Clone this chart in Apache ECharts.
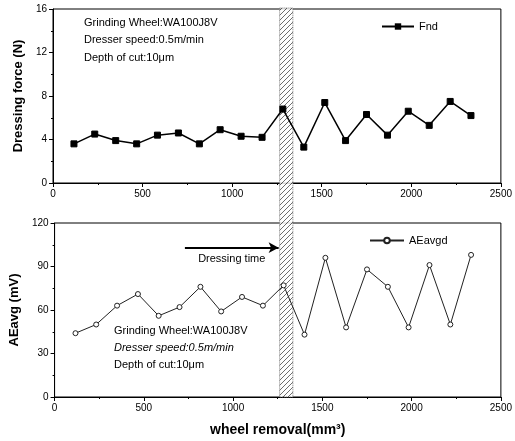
<!DOCTYPE html>
<html><head><meta charset="utf-8">
<script src="https://cdn.jsdelivr.net/npm/echarts@6/dist/echarts.min.js"></script>
<style>html,body{margin:0;padding:0;background:#fff}#c{width:515px;height:441px}</style>
</head><body><div id="c"></div>
<script>
var removal = [117,233,350,467,583,700,817,933,1050,1167,1283,1400,1517,1633,1750,1867,1983,2100,2217,2333];
var fnd = [3.6,4.5,3.9,3.6,4.4,4.6,3.6,4.9,4.3,4.2,6.8,3.3,7.4,3.9,6.3,4.4,6.6,5.3,7.5,6.2];
var aeavg = [44,50,63,71,56,62,76,59,69,63,77,43,96,48,88,76,48,91,50,98];
var dressingBand = [1265, 1335];
var arrowRange = [730, 1255];
var arrowLevel = 103;
var xTicks = [0, 2500, 500];
var fTicks = [0, 16, 4];
var aTicks = [0, 120, 30];

var FONT = '"Liberation Sans", Arial, sans-serif';
var chart = echarts.init(document.getElementById('c'));

function pair(a, b) { return a.map(function (v, i) { return [v, b[i]]; }); }

function hatch() {
  var c = document.createElement('canvas');
  c.width = 5; c.height = 5;
  var g = c.getContext('2d');
  g.fillStyle = '#fff'; g.fillRect(0, 0, 5, 5);
  g.strokeStyle = '#555'; g.lineWidth = 1;
  g.beginPath(); g.moveTo(0, 5); g.lineTo(5, 0); g.stroke();
  return c;
}

function xAx(gi) {
  return {
    type: 'value', gridIndex: gi, min: xTicks[0], max: xTicks[1], interval: xTicks[2],
    axisLine: {lineStyle: {color: '#000', width: 1}},
    axisTick: {inside: false, length: 4, lineStyle: {color: '#000'}},
    minorTick: {show: true, splitNumber: 2, length: 2, lineStyle: {color: '#000'}},
    splitLine: {show: false},
    axisLabel: {color: '#000', fontSize: 10, fontFamily: FONT, margin: 6, formatter: function (v) { return String(v); }},
    name: gi === 1 ? 'wheel removal(mm³)' : '',
    nameLocation: 'middle', nameGap: 26,
    nameTextStyle: {color: '#000', fontSize: 14, fontWeight: 'bold', fontFamily: FONT}
  };
}
function yAx(gi, t, name) {
  return {
    type: 'value', gridIndex: gi, min: t[0], max: t[1], interval: t[2],
    axisLine: {show: true, lineStyle: {color: '#000', width: 1}},
    axisTick: {show: true, inside: false, length: 4, lineStyle: {color: '#000'}},
    minorTick: {show: true, splitNumber: 2, length: 2, lineStyle: {color: '#000'}},
    splitLine: {show: false},
    axisLabel: {color: '#000', fontSize: 10, fontFamily: FONT, margin: 6},
    name: name, nameLocation: 'middle', nameGap: 26,
    nameTextStyle: {color: '#000', fontSize: 13, fontWeight: 'bold', fontFamily: FONT}
  };
}

var txt = {fontSize: 11, fontFamily: FONT, fill: '#000'};

chart.setOption({
  animation: false,
  backgroundColor: '#fff',
  grid: [
    {left: 53, right: 10, top: 9, height: 174, show: true, borderColor: '#000', borderWidth: 1},
    {left: 53, right: 10, top: 223, height: 174, show: true, borderColor: '#000', borderWidth: 1}
  ],
  xAxis: [xAx(0), xAx(1)],
  yAxis: [yAx(0, fTicks, 'Dressing force (N)'), yAx(1, aTicks, 'AEavg (mV)')],
  legend: [
    {data: ['Fnd'], left: 376, top: 16, itemWidth: 32, itemHeight: 8, itemGap: 4,
     textStyle: {color: '#000', fontSize: 11, fontFamily: FONT}},
    {data: ['AEavgd'], left: 364, top: 230, itemWidth: 34, itemHeight: 7, itemGap: 4,
     textStyle: {color: '#000', fontSize: 11, fontFamily: FONT}}
  ],
  series: [
    {name: 'Fnd', type: 'line', xAxisIndex: 0, yAxisIndex: 0, data: pair(removal, fnd),
     symbol: 'rect', symbolSize: 6, z: 5,
     lineStyle: {color: '#000', width: 1.5}, itemStyle: {color: '#000', borderColor: '#000'}},
    {name: 'AEavgd', type: 'line', xAxisIndex: 1, yAxisIndex: 1, data: pair(removal, aeavg),
     symbol: 'circle', symbolSize: 5, z: 5,
     lineStyle: {color: '#222', width: 1}, itemStyle: {color: '#fff', borderColor: '#222', borderWidth: 1},
     markLine: {
       silent: true, symbol: ['none', 'arrow'], symbolSize: [8, 10],
       lineStyle: {color: '#000', width: 2, type: 'solid'},
       label: {show: true, position: 'insideMiddleBottom', formatter: 'Dressing time', color: '#000',
               fontSize: 11, fontFamily: FONT, distance: 6},
       data: [[{coord: [arrowRange[0], arrowLevel]}, {coord: [arrowRange[1], arrowLevel]}]]
     }}
  ]
});

var p0 = chart.convertToPixel({xAxisIndex: 0, yAxisIndex: 0}, [dressingBand[0], fTicks[1]]);
var p1 = chart.convertToPixel({xAxisIndex: 1, yAxisIndex: 1}, [dressingBand[1], aTicks[0]]);

chart.setOption({
  graphic: [
    {type: 'rect', z: 3, shape: {x: p0[0], y: p0[1] - 1, width: p1[0] - p0[0], height: p1[1] - p0[1] + 1},
     style: {fill: {image: hatch(), repeat: 'repeat'}, stroke: '#666', lineWidth: 1, lineDash: [1, 1], opacity: 0.85}},
    {type: 'text', left: 84, top: 17, style: Object.assign({text: 'Grinding Wheel:WA100J8V'}, txt)},
    {type: 'text', left: 84, top: 34, style: Object.assign({text: 'Dresser speed:0.5m/min'}, txt)},
    {type: 'text', left: 84, top: 52, style: Object.assign({text: 'Depth of cut:10μm'}, txt)},
    {type: 'text', left: 114, top: 325, style: Object.assign({text: 'Grinding Wheel:WA100J8V'}, txt)},
    {type: 'text', left: 114, top: 342, style: Object.assign({text: 'Dresser speed:0.5m/min', fontStyle: 'italic'}, txt)},
    {type: 'text', left: 114, top: 359, style: Object.assign({text: 'Depth of cut:10μm'}, txt)}
  ]
});
</script></body></html>
